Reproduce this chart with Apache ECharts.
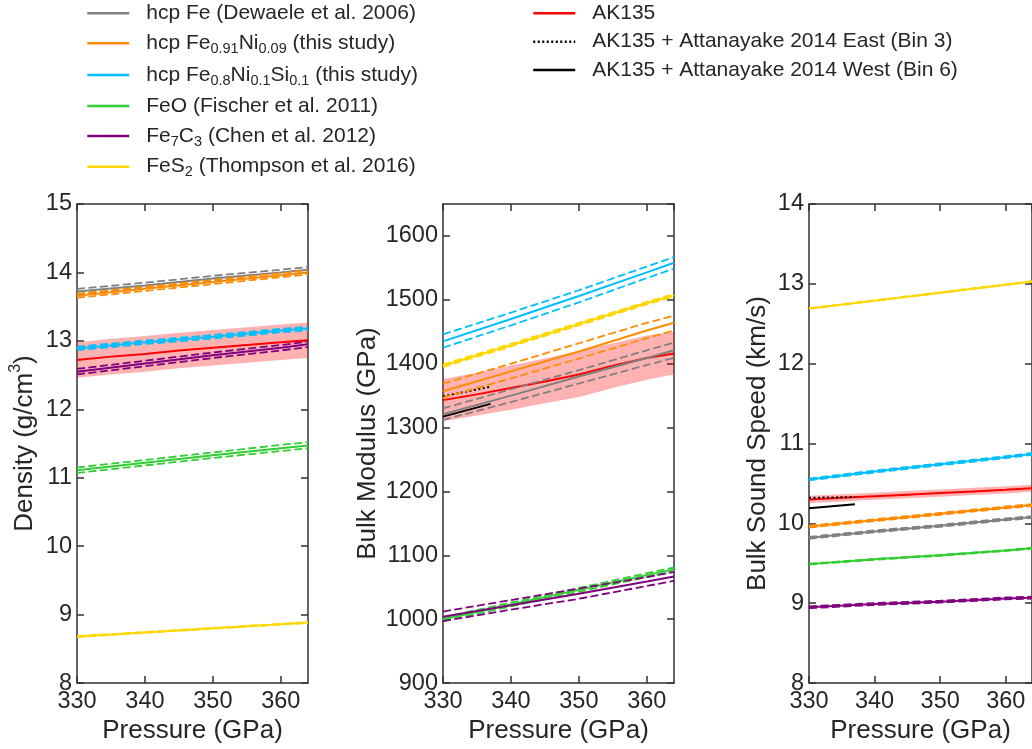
<!DOCTYPE html>
<html><head><meta charset="utf-8">
<script src="https://cdn.jsdelivr.net/npm/echarts@6/dist/echarts.min.js"></script>
<style>html,body{margin:0;padding:0;background:#fff}#c{width:1032px;height:749px}</style>
</head><body><div id="c"></div>
<script>
// ---------------- DATA ----------------
const P = [330, 340, 350, 360, 364];           // pressure (GPa) sample points for mineral curves
const akP = [330, 335, 340, 345, 350, 355, 360, 364]; // AK135 sample points
const ewP = [330, 337];                         // Attanayake East/West segments

// Density (g/cm3)
const rhoFe      = [13.72, 13.81, 13.91, 14.00, 14.04];
const rhoFeHi    = [13.76, 13.85, 13.95, 14.04, 14.08];
const rhoFeLo    = [13.68, 13.77, 13.87, 13.96, 14.00];
const rhoFeNi    = [13.66, 13.76, 13.86, 13.96, 14.00];
const rhoFeNiHi  = [13.69, 13.79, 13.89, 13.99, 14.03];
const rhoFeNiLo  = [13.63, 13.73, 13.83, 13.93, 13.97];
const rhoFeNiSi  = [12.89, 12.98, 13.06, 13.15, 13.18];
const rhoFeNiSiHi= [12.915, 13.005, 13.085, 13.175, 13.205];
const rhoFeNiSiLo= [12.865, 12.955, 13.035, 13.125, 13.155];
const rhoFeO     = [11.11, 11.22, 11.33, 11.43, 11.47];
const rhoFeOHi   = [11.15, 11.26, 11.37, 11.48, 11.52];
const rhoFeOLo   = [11.07, 11.18, 11.29, 11.39, 11.43];
const rhoFe7C3   = [12.55, 12.67, 12.79, 12.90, 12.95];
const rhoFe7C3Hi = [12.59, 12.71, 12.83, 12.94, 12.99];
const rhoFe7C3Lo = [12.51, 12.63, 12.75, 12.86, 12.91];
const rhoFeS2    = [8.68, 8.74, 8.80, 8.86, 8.885];
const rhoFeS2Hi  = [8.686, 8.746, 8.806, 8.866, 8.891];
const rhoFeS2Lo  = [8.674, 8.734, 8.794, 8.854, 8.879];
const akRho      = [12.72, 12.77, 12.81, 12.86, 12.90, 12.94, 12.98, 13.01];
const akRhoHi    = [12.98, 13.03, 13.07, 13.12, 13.16, 13.20, 13.24, 13.27];
const akRhoLo    = [12.46, 12.51, 12.55, 12.60, 12.64, 12.68, 12.72, 12.75];

// Bulk modulus (GPa)
const kFe      = [1321, 1350, 1380, 1409, 1421];
const kFeHi    = [1330, 1360, 1390, 1421, 1433];
const kFeLo    = [1312, 1340, 1369, 1398, 1409];
const kFeNi    = [1357, 1388, 1419, 1452, 1464];
const kFeNiHi  = [1369, 1400, 1432, 1464, 1475];
const kFeNiLo  = [1347, 1377, 1408, 1440, 1452];
const kFeNiSi  = [1435, 1470, 1506, 1543, 1558];
const kFeNiSiHi= [1446, 1480, 1515, 1552, 1567];
const kFeNiSiLo= [1425, 1460, 1496, 1534, 1549];
const kFeO     = [1000, 1023, 1046, 1069, 1078];
const kFeOHi   = [1003, 1026, 1049, 1072, 1081];
const kFeOLo   = [997, 1020, 1043, 1066, 1075];
const kFe7C3   = [1004, 1022, 1040, 1059, 1067];
const kFe7C3Hi = [1012, 1030, 1048, 1066, 1074];
const kFe7C3Lo = [997, 1015, 1032, 1052, 1060];
const kFeS2    = [1397, 1429, 1462, 1495, 1507];
const kFeS2Hi  = [1399, 1431, 1464, 1497, 1509];
const kFeS2Lo  = [1395, 1427, 1460, 1493, 1505];
const akK      = [1343, 1352, 1362, 1372, 1383, 1397, 1409, 1416];
const akKHi    = [1376, 1386, 1397, 1408, 1420, 1432, 1444, 1450];
const akKLo    = [1310, 1319, 1328, 1338, 1348, 1362, 1375, 1383];
const eastK    = [1349, 1364];
const westK    = [1317, 1337];

// Bulk sound speed (km/s)
const vFe      = [9.82, 9.90, 9.97, 10.05, 10.08];
const vFeHi    = [9.832, 9.912, 9.982, 10.062, 10.092];
const vFeLo    = [9.808, 9.888, 9.958, 10.038, 10.068];
const vFeNi    = [9.96, 10.04, 10.12, 10.20, 10.23];
const vFeNiHi  = [9.972, 10.052, 10.132, 10.212, 10.242];
const vFeNiLo  = [9.948, 10.028, 10.108, 10.188, 10.218];
const vFeNiSi  = [10.55, 10.65, 10.74, 10.83, 10.87];
const vFeNiSiHi= [10.562, 10.662, 10.752, 10.842, 10.882];
const vFeNiSiLo= [10.538, 10.638, 10.728, 10.818, 10.858];
const vFeO     = [9.49, 9.55, 9.60, 9.66, 9.69];
const vFeOHi   = [9.495, 9.555, 9.605, 9.665, 9.695];
const vFeOLo   = [9.485, 9.545, 9.595, 9.655, 9.685];
const vFe7C3   = [8.95, 8.99, 9.02, 9.06, 9.07];
const vFe7C3Hi = [8.962, 9.002, 9.032, 9.072, 9.082];
const vFe7C3Lo = [8.938, 8.978, 9.008, 9.048, 9.058];
const vFeS2    = [12.69, 12.79, 12.89, 12.99, 13.03];
const vFeS2Hi  = [12.694, 12.794, 12.894, 12.994, 13.034];
const vFeS2Lo  = [12.686, 12.786, 12.886, 12.986, 13.026];
const akV      = [10.30, 10.32, 10.34, 10.36, 10.38, 10.40, 10.42, 10.44];
const akVHi    = [10.345, 10.365, 10.385, 10.405, 10.425, 10.445, 10.465, 10.485];
const akVLo    = [10.255, 10.275, 10.295, 10.315, 10.335, 10.355, 10.375, 10.395];
const eastV    = [10.32, 10.33];
const westV    = [10.19, 10.24];

// Labels
const N_FE = 'hcp Fe (Dewaele et al. 2006)';
const N_FENI = 'hcp Fe0.91Ni0.09 (this study)';
const N_FENISI = 'hcp Fe0.8Ni0.1Si0.1 (this study)';
const N_FEO = 'FeO (Fischer et al. 2011)';
const N_FE7C3 = 'Fe7C3 (Chen et al. 2012)';
const N_FES2 = 'FeS2 (Thompson et al. 2016)';
const N_AK = 'AK135';
const N_EAST = 'AK135 + Attanayake 2014 East (Bin 3)';
const N_WEST = 'AK135 + Attanayake 2014 West (Bin 6)';
const yTitles = ['Density (g/cm{sup|3})', 'Bulk Modulus (GPa)', 'Bulk Sound Speed (km/s)'];
const xTitle = 'Pressure (GPa)';

// ---------------- STYLE / LAYOUT ----------------
const FONT = '"Liberation Sans", Arial, Helvetica, sans-serif';
const TXT = '#262626';
const AX = '#333333';
const DASH = [8, 3.5];

const materials = [
  {name: N_FE,     color: '#808080', d: [[rhoFe, rhoFeHi, rhoFeLo], [kFe, kFeHi, kFeLo], [vFe, vFeHi, vFeLo]]},
  {name: N_FENI,   color: '#ff8c00', d: [[rhoFeNi, rhoFeNiHi, rhoFeNiLo], [kFeNi, kFeNiHi, kFeNiLo], [vFeNi, vFeNiHi, vFeNiLo]]},
  {name: N_FENISI, color: '#00bfff', d: [[rhoFeNiSi, rhoFeNiSiHi, rhoFeNiSiLo], [kFeNiSi, kFeNiSiHi, kFeNiSiLo], [vFeNiSi, vFeNiSiHi, vFeNiSiLo]]},
  {name: N_FEO,    color: '#32cd32', d: [[rhoFeO, rhoFeOHi, rhoFeOLo], [kFeO, kFeOHi, kFeOLo], [vFeO, vFeOHi, vFeOLo]]},
  {name: N_FE7C3,  color: '#800080', d: [[rhoFe7C3, rhoFe7C3Hi, rhoFe7C3Lo], [kFe7C3, kFe7C3Hi, kFe7C3Lo], [vFe7C3, vFe7C3Hi, vFe7C3Lo]]},
  {name: N_FES2,   color: '#ffd700', d: [[rhoFeS2, rhoFeS2Hi, rhoFeS2Lo], [kFeS2, kFeS2Hi, kFeS2Lo], [vFeS2, vFeS2Hi, vFeS2Lo]]}
];
const ak = [[akRho, akRhoHi, akRhoLo], [akK, akKHi, akKLo], [akV, akVHi, akVLo]];
const east = [null, eastK, eastV];
const west = [null, westK, westV];

const yScales = [
  {min: 8, max: 15, interval: 1, gap: 31},
  {min: 900, max: 1650, interval: 100, gap: 62},
  {min: 8, max: 14, interval: 1, gap: 38}
];
const gridLefts = [77, 443, 809];

function pts(xs, ys) { return xs.map((x, i) => [x, ys[i]]); }
function line(name, xs, ys, color, pi, extra) {
  return Object.assign({
    type: 'line', name: name, xAxisIndex: 2 * pi, yAxisIndex: 2 * pi,
    data: pts(xs, ys), symbol: 'none', showSymbol: false, silent: true,
    lineStyle: {color: color, width: 2}, itemStyle: {color: color}
  }, extra || {});
}
function band(pi, xs, hi, lo) {
  return {
    type: 'custom', name: 'AK135 band', xAxisIndex: 2 * pi, yAxisIndex: 2 * pi, silent: true, clip: true,
    data: [[xs[0], lo[0]]], encode: {x: 0, y: 1},
    renderItem: (params, api) => {
      const top = xs.map((x, k) => api.coord([x, hi[k]]));
      const bot = xs.map((x, k) => api.coord([x, lo[k]])).reverse();
      return {type: 'polygon', shape: {points: top.concat(bot)}, style: {fill: 'rgba(255,0,0,0.3)'}};
    }
  };
}

const grid = gridLefts.map(l => ({left: l, top: 204, width: 231, height: 485}));
const xAxis = [], yAxis = [], series = [];
const axLine = {show: true, onZero: false, lineStyle: {color: AX, width: 1.5}};
const axTick = {show: true, inside: true, length: 7, lineStyle: {color: AX, width: 1.5}};

for (let i = 0; i < 3; i++) {
  xAxis.push({gridIndex: i, type: 'value', position: 'bottom', min: 330, max: 364, interval: 10,
    axisLine: axLine, axisTick: axTick, splitLine: {show: false},
    axisLabel: {fontSize: 23.5, color: TXT, fontFamily: FONT, margin: 6, showMaxLabel: false, showMinLabel: true, formatter: v => String(v)},
    name: xTitle, nameLocation: 'middle', nameGap: 32,
    nameTextStyle: {fontSize: 26, color: TXT, fontFamily: FONT}});
  xAxis.push({gridIndex: i, type: 'value', position: 'top', min: 330, max: 364, interval: 10,
    axisLine: axLine, axisTick: axTick, splitLine: {show: false}, axisLabel: {show: false}});
  const ys = yScales[i];
  yAxis.push({gridIndex: i, type: 'value', position: 'left', min: ys.min, max: ys.max, interval: ys.interval,
    axisLine: axLine, axisTick: axTick, splitLine: {show: false},
    axisLabel: {fontSize: 23.5, color: TXT, fontFamily: FONT, margin: 5, showMaxLabel: i !== 1, showMinLabel: true, formatter: v => String(v)},
    name: yTitles[i], nameLocation: 'middle', nameGap: ys.gap,
    nameTextStyle: {fontSize: 26, color: TXT, fontFamily: FONT, lineHeight: i === 0 ? 34 : 26,
      rich: {sup: {fontSize: 16, lineHeight: 16, verticalAlign: 'top', color: TXT, fontFamily: FONT}}}});
  yAxis.push({gridIndex: i, type: 'value', position: 'right', min: ys.min, max: ys.max, interval: ys.interval,
    axisLine: axLine, axisTick: axTick, splitLine: {show: false}, axisLabel: {show: false}});

  // AK135 uncertainty band
  const [c, hi, lo] = ak[i];
  series.push(band(i, akP, hi, lo));
  series.push(line(N_AK, akP, c, '#ff0000', i));
  if (east[i]) series.push(line(N_EAST, ewP, east[i], '#000000', i, {lineStyle: {color: '#000', width: 2, type: [2, 2.5]}}));
  if (west[i]) series.push(line(N_WEST, ewP, west[i], '#000000', i, {lineStyle: {color: '#000', width: 1.8}}));
  materials.forEach(m => {
    const [mc, mh, ml] = m.d[i];
    series.push(line(m.name + ' upper', P, mh, m.color, i, {lineStyle: {color: m.color, width: 1.8, type: DASH}}));
    series.push(line(m.name + ' lower', P, ml, m.color, i, {lineStyle: {color: m.color, width: 1.8, type: DASH}}));
    series.push(line(m.name, P, mc, m.color, i));
  });
}

// ---------------- LEGEND ----------------
const richName = {
  [N_FENI]: '{n|hcp Fe}{s|0.91}{n|Ni}{s|0.09}{n| (this study)}',
  [N_FENISI]: '{n|hcp Fe}{s|0.8}{n|Ni}{s|0.1}{n|Si}{s|0.1}{n| (this study)}',
  [N_FE7C3]: '{n|Fe}{s|7}{n|C}{s|3}{n| (Chen et al. 2012)}',
  [N_FES2]: '{n|FeS}{s|2}{n| (Thompson et al. 2016)}'
};
const legendLayout = [
  {name: N_FE, x: 86, y: 13.3}, {name: N_FENI, x: 86, y: 43.3}, {name: N_FENISI, x: 86, y: 75},
  {name: N_FEO, x: 86, y: 106}, {name: N_FE7C3, x: 86, y: 136}, {name: N_FES2, x: 86, y: 166.7},
  {name: N_AK, x: 532, y: 13.3}, {name: N_EAST, x: 532, y: 41.7}, {name: N_WEST, x: 532, y: 70}
];
const legend = legendLayout.map(it => ({
  data: [it.name], left: it.x, top: it.y - 13, orient: 'vertical', padding: 0,
  itemWidth: 42, itemHeight: 26, selectedMode: false,
  lineStyle: {width: 2.5},
  itemStyle: {opacity: 0, borderWidth: 0},
  formatter: n => richName[n] || ('{n|' + n + '}'),
  textStyle: {fontSize: 21, color: TXT, fontFamily: FONT, lineHeight: 26, padding: [0, 0, 0, 12],
    rich: {
      n: {fontSize: 21, lineHeight: 26, color: TXT, fontFamily: FONT},
      s: {fontSize: 14.5, lineHeight: 14, verticalAlign: 'bottom', color: TXT, fontFamily: FONT}
    }}
}));

const chart = echarts.init(document.getElementById('c'), null, {renderer: 'canvas'});
chart.setOption({animation: false, backgroundColor: '#ffffff', grid, xAxis, yAxis, legend, series, tooltip: {show: false}});
</script></body></html>
